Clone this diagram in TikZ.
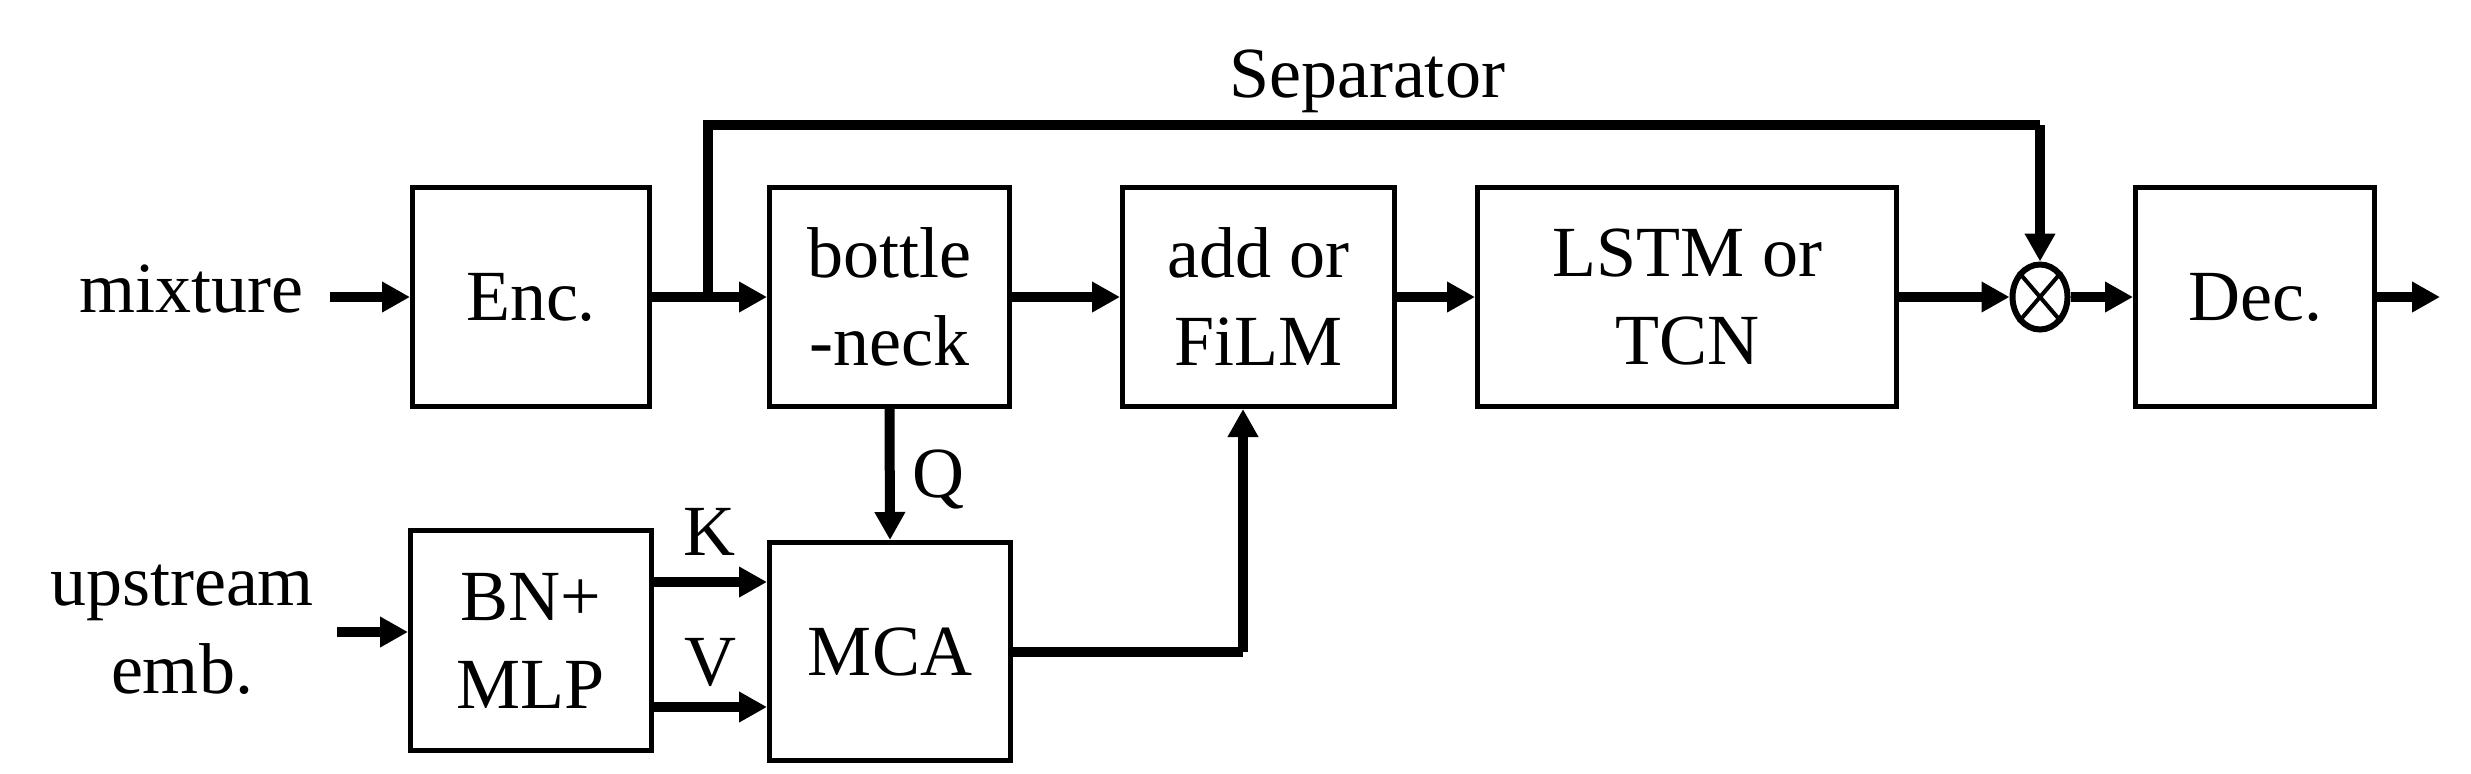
\documentclass[tikz,border=0pt]{standalone}
\usepackage{fontspec}
\setmainfont{Liberation Serif}
\usetikzlibrary{arrows.meta,shapes.geometric}
\begin{document}
\begin{tikzpicture}[x=0.5pt,y=-0.5pt,
  txt/.style={font=\fontsize{36}{44}\selectfont},
  blk/.style={txt,draw,line width=2.5pt,inner sep=0pt,align=center},
  lbl/.style={txt,inner sep=0pt},
  arr/.style={line width=5pt,-{Triangle[length=14pt,width=14.5pt]}},
  ln/.style={line width=5pt}]
\fill[white] (0,0) rectangle (2471,773);
\useasboundingbox (0,0) rectangle (2471,773);

% top row
\node[blk,minimum width=118.5pt,minimum height=109.5pt] (enc) at (531,297) {Enc.};
\node[blk,minimum width=120pt,minimum height=109.5pt] (bott) at (889.5,297) {bottle\\-neck};
\node[blk,minimum width=136pt,minimum height=109.5pt] (add) at (1258.5,297) {add or\\FiLM};
\node[blk,minimum width=209.5pt,minimum height=109.5pt] (lstm) at (1687,297) {LSTM or\\TCN};
\node[draw,ellipse,line width=3pt,inner sep=0pt,minimum width=27.5pt,minimum height=32.5pt] (mul) at (2040,297) {};
\draw[line width=2pt] (mul.north west) -- (mul.south east) (mul.north east) -- (mul.south west);
\node[blk,minimum width=119.5pt,minimum height=109.5pt] (dec) at (2255,297) {Dec.};

% bottom row
\node[blk,minimum width=120.5pt,minimum height=110pt] (bnmlp) at (531,640.5) {BN+\\MLP};
\node[blk,minimum width=120.5pt,minimum height=109pt] (mca) at (890,651.5) {MCA};

% labels
\node[lbl,anchor=base] (mix) at (191,312) {mixture};
\node[lbl,align=center] (ups) at (182,630) {upstream\\emb.};
\node[lbl,anchor=base] (sep) at (1367,97) {Separator};
\node[lbl,anchor=base] (ql) at (938,497) {Q};
\node[lbl,anchor=base] (kl) at (709,555) {K};
\node[lbl,anchor=base] (vl) at (710,685) {V};

% coordinates
\coordinate (mixs) at (330,297);
\coordinate (upss) at (337,632);
\coordinate (br) at (708,297);
\coordinate (tl) at (708,125);
\coordinate (tr) at (2040,125);
\coordinate (out) at (2440,297);
\coordinate (ky) at (0,582);
\coordinate (vy) at (0,707);
\coordinate (mc) at (1243,651.5);

% connectors
\draw[arr] (mixs) -- (enc.west);
\draw[arr] (enc.east) -- (bott.west);
\draw[ln] (br) -- (tl) -- (tr);
\draw[arr] (tr) -- (mul.north);
\draw[arr] (bott.east) -- (add.west);
\draw[arr] (add.east) -- (lstm.west);
\draw[arr] (lstm.east) -- (mul.west);
\draw[arr] (mul.east) -- (dec.west);
\draw[arr] (dec.east) -- (out);
\draw[arr] (bott.south) -- (mca.north);
\draw[arr] (upss) -- (bnmlp.west |- upss);
\draw[arr] (bnmlp.east |- ky) -- (mca.west |- ky);
\draw[arr] (bnmlp.east |- vy) -- (mca.west |- vy);
\draw[ln] (mca.east) -- (mc);
\draw[arr] (mc) -- (mc |- add.south);
\end{tikzpicture}
\end{document}
